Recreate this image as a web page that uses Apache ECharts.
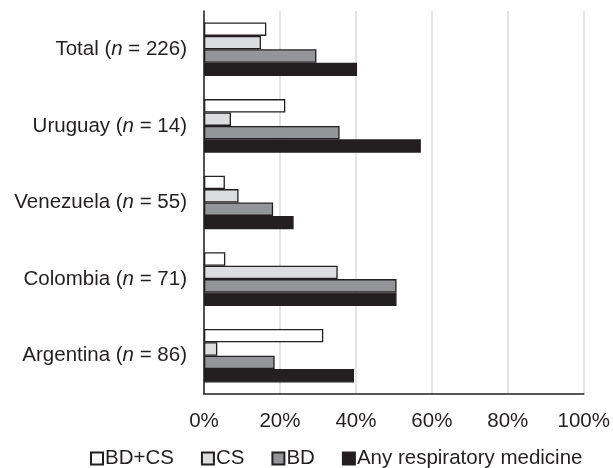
<!DOCTYPE html>
<html>
<head>
<meta charset="utf-8">
<script src="https://cdn.jsdelivr.net/npm/echarts@6/dist/echarts.min.js"></script>
<style>
  html, body { margin: 0; padding: 0; background: #fff; }
  #chart { width: 613px; height: 468px; }
</style>
</head>
<body>
<div id="chart"></div>
<script>
// Groups shown from top to bottom, with their sample sizes
const categories = ['Total', 'Uruguay', 'Venezuela', 'Colombia', 'Argentina'];
const sampleSizes = [226, 14, 55, 71, 86];

// Share of patients using each medicine type (%)
const bdcs = [16.4, 21.4, 5.5, 5.6, 31.4];
const cs   = [15.0, 7.1, 9.1, 35.2, 3.5];
const bd   = [29.6, 35.7, 18.2, 50.7, 18.6];
const anyMed = [40.3, 57.1, 23.6, 50.7, 39.5];

const xTicks = [0, 20, 40, 60, 80, 100];

const ink = '#231f20';
const font = '"Liberation Sans", Arial, sans-serif';

const chart = echarts.init(document.getElementById('chart'), null, { renderer: 'canvas' });

function barSeries(name, data, fill) {
  return {
    name: name,
    type: 'bar',
    data: data,
    barGap: '0%',
    barCategoryGap: '30%',
    itemStyle: { color: fill, borderColor: ink, borderWidth: 1.3 },
    emphasis: { disabled: true }
  };
}

chart.setOption({
  animation: false,
  textStyle: { fontFamily: font },
  grid: { left: 204, right: 27, top: 11, bottom: 74, containLabel: false },
  legend: {
    left: 90,
    top: 448,
    padding: 0,
    itemWidth: 12,
    itemHeight: 12,
    itemGap: 27,
    icon: 'rect',
    textStyle: { fontSize: 20.5, color: ink, fontFamily: font, padding: [0, 0, 0, -3] },
    data: ['BD+CS', 'CS', 'BD', 'Any respiratory medicine']
  },
  xAxis: {
    type: 'value',
    min: xTicks[0],
    max: xTicks[xTicks.length - 1],
    interval: 20,
    axisLine: { show: true, lineStyle: { color: ink, width: 1.5 } },
    axisTick: { show: false },
    splitLine: { show: true, lineStyle: { color: '#dcdcdc', width: 1.5 } },
    axisLabel: {
      formatter: v => v + '%',
      fontSize: 20.5,
      color: ink,
      margin: 17,
      fontFamily: font
    }
  },
  yAxis: {
    type: 'category',
    inverse: true,
    data: categories,
    axisLine: { show: true, lineStyle: { color: ink, width: 1.5 } },
    axisTick: { show: false },
    axisLabel: {
      margin: 17,
      fontSize: 20.5,
      color: ink,
      fontFamily: font,
      formatter: (v, i) => v + ' ({i|n} = ' + sampleSizes[i] + ')',
      rich: {
        i: { fontStyle: 'italic', fontSize: 20.5, color: ink, fontFamily: font }
      }
    }
  },
  series: [
    barSeries('BD+CS', bdcs, '#ffffff'),
    barSeries('CS', cs, '#dcdddf'),
    barSeries('BD', bd, '#939598'),
    barSeries('Any respiratory medicine', anyMed, ink)
  ]
});
</script>
</body>
</html>
